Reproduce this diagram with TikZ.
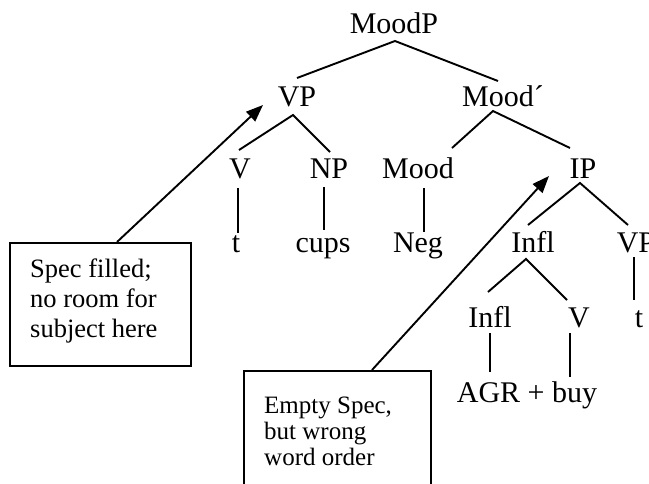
\documentclass[tikz,border=0pt]{standalone}
\usepackage{fontspec}
\setmainfont{Liberation Serif}
\usetikzlibrary{arrows.meta}
\tikzset{
  lbl/.style={inner sep=0pt, anchor=base, font=\fontsize{30}{36}\selectfont},
  btxt/.style={inner sep=0pt, anchor=base west, font=\fontsize{26.5}{30}\selectfont},
  btxtb/.style={inner sep=0pt, anchor=base west, font=\fontsize{25}{28}\selectfont},
  branch/.style={line width=1.9pt},
  callout/.style={draw, line width=1.9pt, inner sep=0pt, anchor=north west},
  pointer/.style={line width=1.9pt, -{Triangle[length=17pt,width=13pt]}}
}
\begin{document}
\begin{tikzpicture}[x=1pt,y=-1pt]
\useasboundingbox (0,0) rectangle (649,483);
\clip (0,0) rectangle (649,483);
% tree labels
\node[lbl] (moodp) at (394,33) {MoodP};
\node[lbl] (vp) at (297,106) {VP};
\node[lbl] (moodbar) at (503,106) {Mood´};
\node[lbl] (v) at (240,178) {V};
\node[lbl] (np) at (329,178) {NP};
\node[lbl] (mood) at (418,178) {Mood};
\node[lbl] (ip) at (583,178) {IP};
\node[lbl] (t1) at (236,252) {t};
\node[lbl] (cups) at (323,252) {cups};
\node[lbl] (neg) at (418,252) {Neg};
\node[lbl] (infl) at (533,252) {Infl};
\node[lbl] (vp2) at (636,252) {VP};
\node[lbl] (infl2) at (490,327) {Infl};
\node[lbl] (v2) at (579,327) {V};
\node[lbl] (t2) at (639,327) {t};
\node[lbl] (agr) at (527,402) {AGR + buy};
% branch points
\coordinate (c1) at (395,41);
\coordinate (c1l) at (297,78);
\coordinate (c1r) at (498,81);
\coordinate (c2) at (293,115);
\coordinate (c2l) at (239,150);
\coordinate (c2r) at (330,152);
\coordinate (c3) at (493,111);
\coordinate (c3l) at (452,148);
\coordinate (c3r) at (570,148);
\coordinate (c4) at (580,183);
\coordinate (c4l) at (528,225);
\coordinate (c4r) at (628,225);
\coordinate (c5) at (526,259);
\coordinate (c5l) at (488,292);
\coordinate (c5r) at (567,300);
\draw[branch] (c1l) -- (c1) -- (c1r);
\draw[branch] (c2l) -- (c2) -- (c2r);
\draw[branch] (c3l) -- (c3) -- (c3r);
\draw[branch] (c4l) -- (c4) -- (c4r);
\draw[branch] (c5l) -- (c5) -- (c5r);
\draw[branch] (238,188) -- (238,233);
\draw[branch] (324,187) -- (324,230);
\draw[branch] (424,188) -- (424,232);
\draw[branch] (634,257) -- (634,300);
\draw[branch] (490,333) -- (490,372);
\draw[branch] (570,333) -- (570,377);
% callout boxes
\node[callout, minimum width=181pt, minimum height=123pt] (box1) at (9,242) {};
\node[btxt] (b1a) at (30,277) {Spec filled;};
\node[btxt] (b1b) at (30,307) {no room for};
\node[btxt] (b1c) at (30,337) {subject here};
\node[callout, minimum width=187pt, minimum height=140pt] (box2) at (243,370) {};
\node[btxtb] (b2a) at (264,413) {Empty Spec,};
\node[btxtb] (b2b) at (264,439) {but wrong};
\node[btxtb] (b2c) at (264,465) {word order};
% arrows
\coordinate (a1s) at (117,242);
\coordinate (a1e) at (263,105);
\coordinate (a2s) at (372,370);
\coordinate (a2e) at (549,176);
\draw[pointer] (a1s) -- (a1e);
\draw[pointer] (a2s) -- (a2e);
\end{tikzpicture}
\end{document}
